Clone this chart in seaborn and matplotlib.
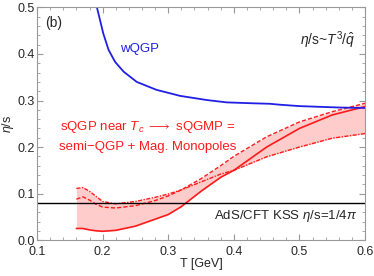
import numpy as np
import pandas as pd
import matplotlib
matplotlib.use("Agg")
import matplotlib.pyplot as plt
import seaborn as sns
from matplotlib.ticker import MultipleLocator

# wQGP curve (blue)
t_blue = [0.191, 0.196, 0.201, 0.209, 0.219, 0.232, 0.252, 0.282, 0.318, 0.359,
          0.389, 0.430, 0.455, 0.470, 0.500, 0.520, 0.560, 0.600]
eta_blue = [0.502, 0.473, 0.444, 0.409, 0.383, 0.362, 0.340, 0.323, 0.310, 0.301,
            0.296, 0.294, 0.293, 0.291, 0.288, 0.287, 0.285, 0.284]

# sQGMP band (red), three curves on a common T grid
t_red = [0.16, 0.17, 0.18, 0.19, 0.20, 0.22, 0.25, 0.28, 0.30, 0.32, 0.35, 0.38,
         0.40, 0.45, 0.50, 0.55, 0.60]
eta_solid = [0.025, 0.025, 0.022, 0.020, 0.019, 0.021, 0.030, 0.045, 0.055, 0.072,
             0.105, 0.135, 0.150, 0.200, 0.240, 0.269, 0.287]
eta_dashed = [0.088, 0.093, 0.086, 0.077, 0.071, 0.069, 0.074, 0.085, 0.095, 0.108,
              0.132, 0.160, 0.180, 0.222, 0.254, 0.276, 0.294]
eta_dashdot = [0.111, 0.113, 0.105, 0.094, 0.083, 0.078, 0.083, 0.092, 0.099, 0.108,
               0.125, 0.142, 0.150, 0.179, 0.200, 0.219, 0.229]

kss = 1 / (4 * np.pi)

sns.set_style("ticks")
plt.rcParams['font.family'] = ['Liberation Sans', 'DejaVu Sans']
plt.rcParams['mathtext.fontset'] = 'custom'
plt.rcParams['mathtext.rm'] = 'Liberation Sans'
plt.rcParams['mathtext.it'] = 'Liberation Sans:italic'
plt.rcParams['mathtext.fallback'] = 'stixsans'

fig = plt.figure(figsize=(3.74, 2.76), dpi=100)
ax = fig.add_axes([0.099, 0.130, 0.877, 0.843])

red = "#ff1a1a"
blue = "#1f1fe6"

# band between the lowest and highest curve
lo = np.minimum.reduce([eta_solid, eta_dashed, eta_dashdot])
hi = np.maximum.reduce([eta_solid, eta_dashed, eta_dashdot])
ax.fill_between(t_red, lo, hi, color="#ffcccc", lw=0)

df_red = pd.DataFrame({"T": t_red, "solid": eta_solid,
                       "dashed": eta_dashed, "dashdot": eta_dashdot})
sns.lineplot(data=df_red, x="T", y="solid", ax=ax, color=red, lw=1.2)
sns.lineplot(data=df_red, x="T", y="dashed", ax=ax, color=red, lw=1.0,
             linestyle=(0, (3, 1.5)))
sns.lineplot(data=df_red, x="T", y="dashdot", ax=ax, color=red, lw=1.0,
             linestyle=(0, (3, 1, 1, 1)))

df_blue = pd.DataFrame({"T": t_blue, "eta": eta_blue})
sns.lineplot(data=df_blue, x="T", y="eta", ax=ax, color=blue, lw=1.3)

ax.axhline(kss, color="black", lw=1.0)

ax.set_xlim(0.1, 0.6)
ax.set_ylim(0.0, 0.5)
ax.xaxis.set_major_locator(MultipleLocator(0.1))
ax.yaxis.set_major_locator(MultipleLocator(0.1))
ax.xaxis.set_minor_locator(MultipleLocator(0.02))
ax.yaxis.set_minor_locator(MultipleLocator(0.02))
ax.set_xticks(ax.get_xticks())
ax.set_yticks(ax.get_yticks())
ax.set_xticklabels([f"{v:.1f}" for v in ax.get_xticks()])
ax.set_yticklabels([f"{v:.1f}" for v in ax.get_yticks()])
ax.set_xlim(0.1, 0.6)
ax.set_ylim(0.0, 0.5)
ax.tick_params(which="both", direction="in", top=True, right=True,
               color="#999999", labelsize=9)
ax.tick_params(axis="x", pad=4)
ax.tick_params(axis="y", pad=1.5)
ax.tick_params(which="major", length=4)
ax.tick_params(which="minor", length=2)
for s in ax.spines.values():
    s.set_color("#999999")
    s.set_linewidth(0.8)

ax.set_xlabel("T [GeV]", fontsize=9, labelpad=0)
ax.set_ylabel(r"$\eta$/s", fontsize=9, labelpad=1)

ax.text(0.112, 0.466, "(b)", fontsize=10, va="center")
ax.text(0.227, 0.41, "wQGP", color=blue, fontsize=9.5, va="center")
ax.text(0.585, 0.43, r"$\eta$/s~$T^3$/$\hat{q}$", fontsize=10, ha="right", va="center")
ax.text(0.269, 0.243, r"sQGP near $T_c$ $\longrightarrow$ sQGMP =", color=red,
        fontsize=9.5, ha="center", va="center")
ax.text(0.269, 0.200, "semi\u2212QGP + Mag. Monopoles", color=red,
        fontsize=9.5, ha="center", va="center")
ax.text(0.588, 0.052, r"AdS/CFT KSS $\eta$/s=1/4$\pi$", fontsize=9.5,
        ha="right", va="center")

fig.savefig("out.png", dpi=100)
